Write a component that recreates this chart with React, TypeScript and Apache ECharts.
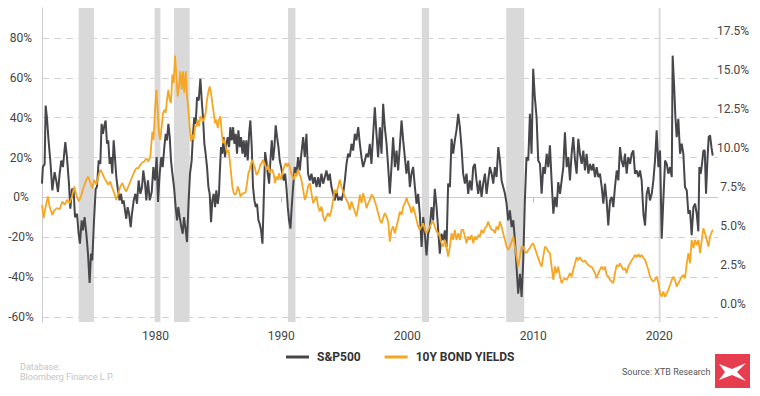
import React, { useEffect, useRef } from "react";
import * as echarts from "echarts";

const xTicks = [1980, 1990, 2000, 2010, 2020];
const leftTicks = [-60, -40, -20, 0, 20, 40, 60, 80];
const rightTicks = [0, 2.5, 5, 7.5, 10, 12.5, 15, 17.5];

const recessionStart = [1973.91, 1979.94, 1981.48, 1990.53, 2001.15, 2007.85, 2019.95];
const recessionEnd = [1975.12, 1980.4, 1982.72, 1991.12, 2001.73, 2009.28, 2020.1];

// S&P500 YoY change (%), 1971-1991
const spxYears70s80s = [
  1971.0, 1971.07, 1971.21, 1971.29, 1971.39, 1971.52, 1971.66, 1971.82, 1972.0, 1972.13,
  1972.27, 1972.4, 1972.53, 1972.66, 1972.85, 1972.98, 1973.14, 1973.25, 1973.38, 1973.51,
  1973.62, 1973.78, 1973.91, 1974.01, 1974.15, 1974.25, 1974.38, 1974.52, 1974.65, 1974.78,
  1974.89, 1974.99, 1975.13, 1975.26, 1975.36, 1975.5, 1975.63, 1975.73, 1975.84, 1975.95,
  1976.05, 1976.16, 1976.26, 1976.37, 1976.48, 1976.58, 1976.69, 1976.79, 1976.9, 1977.03,
  1977.16, 1977.27, 1977.38, 1977.48, 1977.59, 1977.69, 1977.8, 1977.91, 1978.04, 1978.14,
  1978.28, 1978.41, 1978.54, 1978.67, 1978.81, 1978.94, 1979.04, 1979.18, 1979.28, 1979.41,
  1979.55, 1979.71, 1979.84, 1979.97, 1980.1, 1980.21, 1980.34, 1980.47, 1980.58, 1980.71,
  1980.82, 1980.92, 1981.03, 1981.14, 1981.24, 1981.35, 1981.48, 1981.61, 1981.72, 1981.82,
  1981.93, 1982.06, 1982.17, 1982.27, 1982.41, 1982.51, 1982.64, 1982.75, 1982.88, 1982.99,
  1983.09, 1983.2, 1983.31, 1983.44, 1983.57, 1983.68, 1983.78, 1983.89, 1983.99, 1984.1,
  1984.21, 1984.31, 1984.42, 1984.52, 1984.63, 1984.74, 1984.84, 1984.95, 1985.05, 1985.11,
  1985.21, 1985.32, 1985.42, 1985.53, 1985.64, 1985.74, 1985.85, 1985.95, 1986.06, 1986.17,
  1986.27, 1986.38, 1986.48, 1986.59, 1986.7, 1986.8, 1986.91, 1987.01, 1987.12, 1987.22,
  1987.33, 1987.44, 1987.54, 1987.65, 1987.75, 1987.86, 1987.97, 1988.07, 1988.18, 1988.28,
  1988.39, 1988.5, 1988.6, 1988.71, 1988.81, 1988.92, 1989.03, 1989.13, 1989.24, 1989.34,
  1989.45, 1989.55, 1989.66, 1989.77, 1989.87, 1989.98, 1990.08, 1990.19, 1990.3, 1990.4,
  1990.51, 1990.61, 1990.72, 1990.82,
  1990.93, 1991.06, 1991.2, 1991.33, 1991.46,
];
const spxValues70s80s = [
  6.9, 15.2, 16.8, 46.1, 40.2, 28.6, 18.5, 3.5, 12.7, 8.5,
  2.7, 11.9, 18.5, 15.2, 27.7, 20.2, 6.9, -5.7, 4.3, 3.5,
  -9.9, -8.2, -18.2, -23.2, -11.5, -16.5, -9.9, -18.2, -28.2, -42.9,
  -28.2, -31.6, -11.5, 4.3, 5.2, 18.5, 16.8, 36.9, 31.9, 36.1,
  38.6, 26.9, 28.6, 16.8, 20.2, 11.9, 28.6, 20.2, 10.2, 3.5,
  -1.5, 1.8, -3.2, -1.5, -6.5, -10.7, -4.9, -8.2, -14.9, -8.2,
  -1.5, 1.8, -3.2, 8.5, 1.8, 5.2, 13.5, 6.9, -1.5, 8.5,
  -1.5, 2.7, 15.2, 8.5, 20.2, -2.3, 11.9, 20.2, 15.2, 25.2,
  31.9, 28.6, 36.9, 30.2, 18.5, 11.9, 5.2, -4.9, -11.5, -4.9,
  -9.9, -14.9, -18.2, -9.9, -16.5, -22.4, -1.5, 11.9, 18.5, 31.9,
  40.2, 36.9, 50.3, 48.6, 59.5, 48.6, 40.2, 26.9, 21.9, 15.2,
  5.2, 1.8, -12.4, -1.5, 1.8, -4.9, 3.5, -3.2, 1.8, 11.9,
  25.2, 21.9, 30.2, 20.2, 26.9, 30.2, 25.2, 35.2, 28.6, 35.2,
  26.9, 31.9, 21.9, 33.6, 25.2, 30.2, 21.9, 28.6, 20.2, 28.6,
  18.5, 31.9, 38.6, 25.2, 5.2, -1.5, -4.9, -3.2, -11.5, -13.2,
  -16.5, -23.2, -1.5, 22.7, 18.5, 11.9, 6.9, 18.5, 28.6, 18.5,
  25.2, 36.1, 30.2, 25.2, 18.5, 15.2, 11.9, 8.5, 11.9, 5.2,
  -4.9, -11.5, -15.7, -4.9,
  5.2, 15.2, 11.9, 20.2, 13.5,
];

// shared dates 1991.59 - 2010.39
const years90s00s = [
  1991.59, 1991.73, 1991.86, 1991.99, 1992.12, 1992.26, 1992.39, 1992.52, 1992.65, 1992.79,
  1992.92, 1993.05, 1993.18, 1993.32, 1993.45, 1993.58, 1993.71, 1993.84, 1993.98, 1994.11,
  1994.24, 1994.37, 1994.51, 1994.64, 1994.77, 1994.9, 1995.04, 1995.17, 1995.3, 1995.43,
  1995.57, 1995.7, 1995.83, 1995.96, 1996.1, 1996.23, 1996.36, 1996.49, 1996.63, 1996.76,
  1996.89, 1997.02, 1997.15, 1997.29, 1997.42, 1997.55, 1997.68, 1997.82, 1997.95, 1998.08,
  1998.21, 1998.35, 1998.48, 1998.61, 1998.74, 1998.87, 1999.01, 1999.14, 1999.27, 1999.4,
  1999.54, 1999.67, 1999.8, 1999.93, 2000.07, 2000.2, 2000.33, 2000.46, 2000.6, 2000.73,
  2000.86, 2000.99, 2001.13, 2001.26, 2001.39, 2001.52, 2001.65, 2001.79, 2001.92, 2002.05,
  2002.18, 2002.32, 2002.45, 2002.58, 2002.71, 2002.85, 2002.98, 2003.11, 2003.24, 2003.38,
  2003.51, 2003.64, 2003.77, 2003.9, 2004.04, 2004.17, 2004.3, 2004.43, 2004.57, 2004.7,
  2004.83, 2004.96, 2005.1, 2005.23, 2005.36, 2005.49, 2005.63, 2005.76, 2005.89, 2006.02,
  2006.16, 2006.29, 2006.42, 2006.55, 2006.69, 2006.82, 2006.95, 2007.08, 2007.22, 2007.35,
  2007.48, 2007.61, 2007.75, 2007.88, 2008.01, 2008.14, 2008.28, 2008.41, 2008.54, 2008.67,
  2008.8, 2008.94, 2009.07, 2009.2, 2009.33, 2009.46, 2009.6, 2009.73, 2009.86, 2009.99,
  2010.12, 2010.26, 2010.39,
];
const spxValues90s00s = [
  21.9, 30.2, 20.2, 31.9, 11.9, 8.5, 11.9, 6.9, 10.2, 5.2,
  10.2, 5.2, 11.9, 6.9, 10.2, 13.5, 8.5, 11.9, 5.2, 1.8,
  -1.5, 3.5, -1.5, 0.2, -1.5, 1.8, 8.5, 16.8, 21.9, 20.2,
  26.9, 23.5, 31.9, 28.6, 35.2, 26.9, 20.2, 15.2, 18.5, 21.9,
  20.2, 26.9, 16.8, 31.9, 45.2, 31.9, 20.2, 35.2, 21.9, 46.9,
  35.2, 26.9, 15.2, 1.8, 15.2, 30.2, 15.2, 23.5, 13.5, 25.2,
  38.6, 28.6, 20.2, 11.9, 18.5, 5.2, 11.9, 15.2, 5.2, -3.2,
  1.8, -8.2, -24.9, -9.9, -18.2, -29.1, -18.2, -14.9, -4.9, -11.5,
  4.3, -4.9, -16.5, -28.2, -18.2, -21.5, -16.5, -24.9, 6.9, 5.2,
  29.4, 21.9, 28.6, 33.6, 41.9, 35.2, 25.2, 11.9, 6.9, 11.9,
  1.8, 8.5, 3.5, 15.2, 16.8, 8.5, 1.8, 8.5, 0.2, 6.9,
  11.9, 1.8, 8.5, 15.2, 11.9, 6.9, 15.2, 10.2, 25.2, 18.5,
  8.5, 5.2, 1.8, -3.2, -11.5, -6.5, -14.9, -11.5, -21.5, -34.9,
  -48.3, -38.3, -49.9, -31.6, -1.5, 20.2, 18.5, 41.9, 21.9, 64.5,
  50.3, 40.2, 18.5,
];

// shared dates 2010.53 - 2020.99
const years10s = [
  2010.53, 2010.66, 2010.79, 2010.92, 2011.06, 2011.19, 2011.32, 2011.45, 2011.59, 2011.72,
  2011.85, 2011.98, 2012.12, 2012.25, 2012.38, 2012.51, 2012.65, 2012.78, 2012.91, 2013.04,
  2013.17, 2013.31, 2013.44, 2013.57, 2013.7, 2013.84, 2013.97, 2014.1, 2014.23, 2014.37,
  2014.5, 2014.63, 2014.76, 2014.9, 2015.03, 2015.16, 2015.29, 2015.43, 2015.56, 2015.69,
  2015.82, 2015.95, 2016.09, 2016.22, 2016.35, 2016.48, 2016.62, 2016.75, 2016.88, 2017.01,
  2017.15, 2017.28, 2017.41, 2017.54, 2017.68, 2017.81, 2017.94, 2018.07, 2018.21, 2018.34,
  2018.47, 2018.6, 2018.74, 2018.87, 2019.0, 2019.13, 2019.26, 2019.4, 2019.53, 2019.66,
  2019.79, 2019.93, 2020.06, 2020.19, 2020.32, 2020.46, 2020.59, 2020.72, 2020.85, 2020.99,
];
const spxValues10s = [
  16.8, 1.8, 15.2, 11.9, 21.9, 15.2, 26.1, 8.5, -8.2, 0.2,
  -4.9, 7.7, 1.8, 8.5, 15.2, 32.7, 15.2, 20.2, 8.5, 21.9,
  30.2, 18.5, 11.9, 29.4, 21.9, 16.8, 23.5, 13.5, 21.9, 11.9,
  16.8, 13.5, 16.8, 10.2, 15.2, 10.2, 11.9, 5.2, -3.2, 6.9,
  -1.5, -14.1, -1.5, 0.2, -4.9, 5.2, 13.5, 8.5, 25.2, 18.5,
  15.2, 21.9, 11.9, 20.2, 16.8, 21.9, 23.5, 11.9, 13.5, 10.2,
  13.5, 8.5, -8.2, -14.1, 1.8, 5.2, -1.5, 1.8, 8.5, 18.5,
  33.6, 15.2, 23.5, -20.7, -1.5, 18.5, 16.8, 11.9, 15.2, 10.2,
];
const spxYears20s = [
  2021.06, 2021.17, 2021.28, 2021.38, 2021.51, 2021.65, 2021.78, 2021.91, 2022.04, 2022.18,
  2022.31, 2022.44, 2022.57, 2022.71, 2022.84, 2022.97, 2023.1, 2023.18, 2023.29, 2023.39,
  2023.5, 2023.61, 2023.71, 2023.82, 2023.92, 2024.03, 2024.14, 2024.24,
];
const spxValues20s = [
  71.1, 57.0, 40.2, 30.2, 39.4, 21.9, 26.9, 21.9, 5.2, 3.5,
  -8.2, -6.5, -19.0, -4.9, -3.2, -8.2, -17.0, 15.2, 11.9, 16.8,
  23.5, 23.5, 1.8, 18.5, 30.2, 31.1, 25.2, 21.0,
];

// 10Y bond yield (%)
const yieldYears70s80s = [
  1971.0, 1971.13, 1971.29, 1971.47, 1971.6, 1971.82, 1972.0, 1972.19, 1972.4, 1972.61,
  1972.8, 1972.98, 1973.19, 1973.38, 1973.56, 1973.72, 1973.91, 1974.09, 1974.28, 1974.46,
  1974.65, 1974.81, 1974.99, 1975.15, 1975.31, 1975.47, 1975.63, 1975.79, 1975.95, 1976.11,
  1976.26, 1976.42, 1976.58, 1976.74, 1976.9, 1977.06, 1977.22, 1977.38, 1977.54, 1977.69,
  1977.85, 1978.01, 1978.17, 1978.33, 1978.49, 1978.65, 1978.81, 1978.96, 1979.12, 1979.28,
  1979.44, 1979.6, 1979.76, 1979.86, 1979.97, 1980.08, 1980.18, 1980.29, 1980.39, 1980.5,
  1980.61, 1980.71, 1980.82, 1980.92, 1981.03, 1981.14, 1981.24, 1981.35, 1981.45, 1981.56,
  1981.67, 1981.77, 1981.88, 1981.98, 1982.09, 1982.19, 1982.3, 1982.41, 1982.51, 1982.62,
  1982.72, 1982.83, 1982.94, 1983.04, 1983.15, 1983.25, 1983.36, 1983.47, 1983.57, 1983.68,
  1983.78, 1983.89, 1983.99, 1984.1, 1984.21, 1984.31, 1984.42, 1984.52, 1984.63, 1984.74,
  1984.84, 1984.95, 1985.05, 1985.16, 1985.27, 1985.37, 1985.48, 1985.58, 1985.69, 1985.8,
  1985.9, 1986.01, 1986.11, 1986.22, 1986.33, 1986.43, 1986.54, 1986.64, 1986.75, 1986.85,
  1986.96, 1987.07, 1987.17, 1987.28, 1987.38, 1987.49, 1987.6, 1987.7, 1987.81, 1987.91,
  1988.02, 1988.13, 1988.23, 1988.34, 1988.44, 1988.55, 1988.65, 1988.76, 1988.87, 1988.97,
  1989.08, 1989.18, 1989.29, 1989.4, 1989.5, 1989.61, 1989.71, 1989.82, 1989.93, 1990.03,
  1990.14, 1990.24, 1990.35, 1990.46, 1990.56, 1990.67, 1990.77, 1990.88, 1990.98, 1991.09,
  1991.2, 1991.3, 1991.46,
];
const yieldValues70s80s = [
  6.36, 5.51, 6.25, 6.9, 6.25, 5.72, 6.04, 6.15, 6.08, 6.58,
  6.36, 6.68, 6.47, 6.9, 7.54, 7.01, 6.58, 6.9, 7.43, 7.86,
  8.18, 7.86, 7.43, 7.97, 7.65, 8.18, 8.61, 8.4, 8.08, 7.86,
  7.65, 7.86, 7.43, 7.11, 6.68, 7.11, 7.54, 7.76, 7.43, 7.22,
  7.54, 7.86, 8.18, 8.5, 8.72, 8.72, 8.93, 9.08, 9.15, 9.36,
  9.15, 9.47, 11.07, 10.54, 12.47, 13.75, 12.47, 10.97, 10.54, 11.4,
  12.26, 12.47, 12.26, 13.11, 13.75, 13.11, 12.9, 14.72, 14.18, 15.94,
  14.61, 13.32, 13.97, 14.93, 13.75, 14.93, 13.54, 14.93, 13.32, 12.47,
  11.4, 10.43, 10.86, 10.54, 11.4, 11.4, 11.83, 11.4, 12.04, 11.93,
  11.72, 11.93, 12.26, 13.11, 13.64, 13.97, 13.54, 12.9, 12.26, 11.61,
  11.83, 11.29, 11.83, 12.04, 10.97, 10.33, 10.54, 10.11, 9.69, 9.9,
  9.25, 8.4, 7.54, 7.11, 7.01, 7.11, 7.54, 7.33, 6.9, 7.01,
  7.11, 7.11, 7.22, 7.76, 8.4, 8.61, 9.04, 9.25, 8.93, 8.72,
  8.29, 8.4, 8.61, 8.93, 9.04, 9.25, 9.04, 8.82, 8.61, 8.93,
  8.4, 8.61, 8.61, 8.29, 7.76, 8.18, 7.97, 8.4, 7.97, 8.18,
  8.61, 8.82, 9.04, 8.82, 9.04, 8.82, 8.4, 8.18, 7.97, 8.4,
  8.18, 8.61, 8.29,
];
const yieldValues90s00s = [
  7.97, 7.33, 6.68, 7.01, 7.54, 7.76, 7.11, 6.47, 6.68, 6.9,
  6.25, 5.93, 6.25, 5.61, 5.29, 5.61, 5.83, 5.61, 6.04, 6.68,
  7.33, 7.11, 7.54, 7.97, 7.54, 7.22, 6.9, 6.68, 6.47, 6.04,
  6.58, 6.25, 5.93, 5.61, 6.25, 7.01, 6.47, 7.11, 6.68, 6.15,
  6.47, 6.68, 7.01, 6.9, 6.58, 6.25, 5.83, 5.4, 5.19, 5.51,
  5.83, 5.61, 5.29, 4.0, 4.76, 4.97, 4.54, 4.97, 5.4, 5.93,
  5.72, 6.25, 6.47, 6.79, 6.47, 6.25, 5.83, 6.25, 5.83, 5.4,
  4.97, 4.76, 4.97, 5.19, 4.76, 4.54, 4.76, 4.97, 5.19, 5.29,
  4.97, 4.65, 4.54, 4.33, 3.9, 3.68, 4.11, 3.68, 3.04, 3.68,
  4.54, 4.11, 4.76, 4.11, 4.54, 4.11, 4.76, 4.76, 4.33, 3.9,
  4.33, 4.11, 4.43, 3.9, 4.33, 4.11, 4.43, 4.33, 4.76, 4.54,
  4.86, 4.97, 5.29, 4.97, 4.76, 4.76, 4.54, 4.97, 4.76, 5.29,
  4.97, 4.54, 4.11, 3.68, 3.47, 3.68, 4.0, 4.33, 3.68, 3.04,
  2.4, 3.04, 3.68, 3.68, 3.36, 3.26, 3.47, 3.58, 3.79, 3.9,
  3.58, 3.26, 2.94,
];
const yieldValues10s = [
  2.61, 2.4, 3.04, 3.68, 3.58, 3.36, 3.26, 2.4, 1.54, 2.4,
  1.97, 2.4, 1.76, 1.33, 1.54, 1.65, 1.54, 1.76, 1.97, 1.76,
  2.19, 2.6, 3.0, 2.8, 3.0, 2.8, 2.7, 2.8, 2.61, 2.51,
  2.4, 2.4, 2.19, 1.97, 1.65, 1.97, 2.19, 2.4, 2.19, 2.4,
  1.86, 1.76, 1.54, 1.44, 1.33, 1.97, 2.51, 2.4, 2.61, 2.4,
  2.19, 2.29, 1.97, 2.4, 2.61, 2.8, 2.95, 3.15, 3.0, 3.2,
  3.0, 3.15, 2.95, 2.83, 2.51, 2.19, 1.76, 1.54, 1.44, 1.54,
  1.76, 1.33, 0.69, 0.47, 0.79, 0.47, 0.69, 0.9, 1.22, 1.54,
];
const yieldYears20s = [
  2021.12, 2021.25, 2021.38, 2021.51, 2021.65, 2021.78, 2021.91, 2022.04, 2022.18, 2022.31,
  2022.44, 2022.57, 2022.71, 2022.84, 2022.97, 2023.1, 2023.24, 2023.37, 2023.5, 2023.63,
  2023.77, 2023.9, 2024.03, 2024.24,
];
const yieldValues20s = [
  1.76, 1.54, 1.11, 1.33, 1.54, 1.76, 1.86, 1.65, 2.61, 3.26,
  2.61, 4.11, 3.58, 4.11, 3.79, 4.11, 3.26, 4.11, 4.86, 4.54,
  4.11, 3.68, 4.33, 4.76,
];

const zip = (xs: number[], ys: number[]) => xs.slice(0, ys.length).map((x, i) => [x, ys[i]]);

const spxData = [
  ...zip(spxYears70s80s, spxValues70s80s),
  ...zip(years90s00s, spxValues90s00s),
  ...zip(years10s, spxValues10s),
  ...zip(spxYears20s, spxValues20s),
];
const yieldData = [
  ...zip(yieldYears70s80s, yieldValues70s80s),
  ...zip(years90s00s, yieldValues90s00s),
  ...zip(years10s, yieldValues10s),
  ...zip(yieldYears20s, yieldValues20s),
];

const FONT = "Roboto";

export default function App() {
  const ref = useRef<HTMLDivElement>(null);
  useEffect(() => {
    document.body.style.margin = "0";
    if (!ref.current) return;
    const chart = echarts.init(ref.current, undefined, { renderer: "svg" });
    const bands = recessionStart.map((s, i) => [{ xAxis: s }, { xAxis: recessionEnd[i] }]);
    chart.setOption({
      animation: false,
      textStyle: { fontFamily: FONT },
      grid: { left: 42, right: 42, top: 8, bottom: 74 },
      legend: {
        data: ["S&P500", "10Y BOND YIELDS"],
        left: 281,
        top: 346,
        icon: "rect",
        itemWidth: 23,
        itemHeight: 3,
        itemGap: 24,
        selectedMode: false,
        textStyle: { fontFamily: FONT, fontWeight: "bold", fontSize: 12, color: "#333333", padding: [0, 0, 0, 3] },
      },
      xAxis: {
        type: "value",
        min: 1971,
        max: 2024.66,
        axisLine: { show: true, lineStyle: { color: "#cccccc", width: 1 } },
        axisTick: { show: true, customValues: xTicks, length: 5, lineStyle: { color: "#bbbbbb" } },
        axisLabel: {
          customValues: xTicks,
          color: "#444444",
          fontSize: 12,
          margin: 8,
          fontFamily: FONT,
          formatter: (v: number) => String(v),
        },
        splitLine: { show: false },
      },
      yAxis: [
        {
          type: "value",
          min: -62.5,
          max: 95,
          position: "left",
          axisLine: { show: true, lineStyle: { color: "#cccccc" } },
          axisTick: { show: false, customValues: leftTicks },
          axisLabel: {
            customValues: leftTicks,
            formatter: (v: number) => v + "%",
            align: "center",
            margin: 21,
            color: "#444444",
            fontSize: 12,
            fontFamily: FONT,
          },
          splitLine: { show: true, lineStyle: { color: "#d2d2d2", type: [7, 5], width: 1 } },
        },
        {
          type: "value",
          min: -1.16,
          max: 19.0,
          position: "right",
          axisLine: { show: false },
          axisTick: { show: false, customValues: rightTicks },
          axisLabel: {
            customValues: rightTicks,
            formatter: (v: number) => v.toFixed(1) + "%",
            align: "center",
            margin: 15,
            color: "#444444",
            fontSize: 12,
            fontFamily: FONT,
          },
          splitLine: { show: false },
        },
      ],
      series: [
        {
          name: "S&P500",
          type: "line",
          yAxisIndex: 0,
          data: spxData,
          symbol: "none",
          color: "#46464b",
          lineStyle: { color: "#46464b", width: 2 },
          itemStyle: { color: "#46464b" },
          z: 2,
          markArea: { silent: true, itemStyle: { color: "#d9d9d9" }, data: bands },
        },
        {
          name: "10Y BOND YIELDS",
          type: "line",
          yAxisIndex: 1,
          data: yieldData,
          symbol: "none",
          color: "#f5a623",
          lineStyle: { color: "#f5a623", width: 1.8 },
          itemStyle: { color: "#f5a623" },
          z: 3,
        },
      ],
      graphic: [
        {
          type: "text",
          left: 20,
          top: 362,
          style: { text: "Database:\nBloomberg Finance L.P.", fill: "#c4c4c4", fontSize: 9, lineHeight: 10, fontFamily: FONT },
        },
        {
          type: "text",
          left: 622,
          top: 367,
          style: { text: "Source: XTB Research", fill: "#555555", fontSize: 9, fontFamily: FONT },
        },
        { type: "rect", shape: { x: 715, y: 354, width: 35, height: 34 }, style: { fill: "#e63e4e" } },
        {
          type: "polygon",
          shape: {
            points: [
              [719, 364], [732, 369], [746, 363], [737, 372], [746, 381], [732, 375], [719, 380], [725, 372],
            ],
          },
          style: { fill: "#ffffff" },
        },
      ],
    });
    return () => chart.dispose();
  }, []);
  return <div ref={ref} style={{ width: 760, height: 396 }} />;
}
